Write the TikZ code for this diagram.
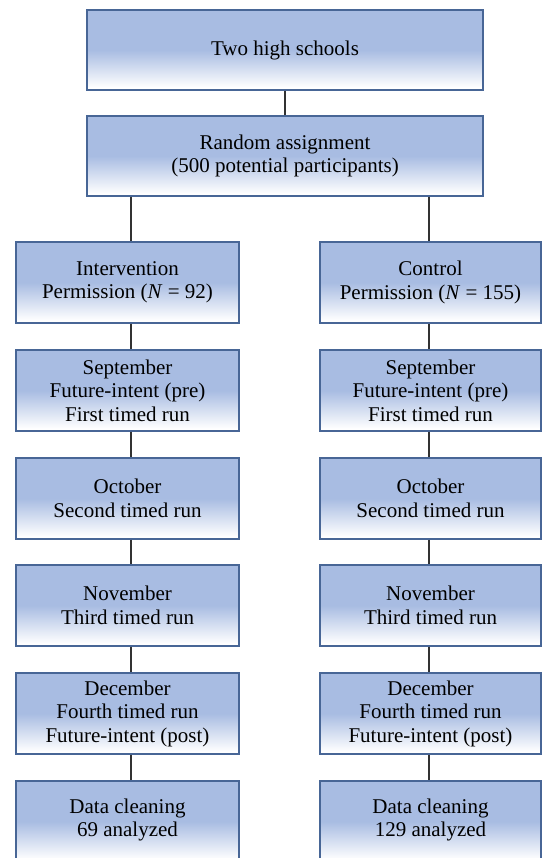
\documentclass[tikz,border=0pt]{standalone}
\usepackage{fontspec}
\setmainfont{Liberation Serif}
\newfontfamily\boxfont{Liberation Serif}
\definecolor{boxblue}{RGB}{168,188,226}
\definecolor{boxedge}{RGB}{72,102,150}
\definecolor{linkgray}{RGB}{50,50,50}
\pgfdeclareverticalshading{boxshade}{100bp}{color(0bp)=(white); color(26.5bp)=(white); color(50bp)=(boxblue); color(100bp)=(boxblue)}
\tikzset{
  flowbox/.style={draw=boxedge, line width=1.2pt, shading=boxshade, align=center,
    font=\boxfont\fontsize{21}{23.5}\selectfont, inner sep=0pt, anchor=center},
  topbox/.style={flowbox, minimum width=396pt, minimum height=80pt},
  leftbox/.style={flowbox, minimum width=223pt, minimum height=81pt},
  rightbox/.style={flowbox, minimum width=221pt, minimum height=81pt},
  endbox/.style={text depth=8pt}
}
\tikzset{link/.style={draw=linkgray, line width=1.3pt}}
\begin{document}
\begin{tikzpicture}[x=1pt,y=-1pt]
\clip (0,0) rectangle (542,858);
\fill[white] (0,0) rectangle (542,858);
\node[topbox] (top) at (285,50) {Two high schools};
\node[topbox] (rand) at (285,156) {Random assignment\\(500 potential participants)};
% left column
\node[leftbox] (li) at (127.5,282.5) {Intervention\\Permission (\textit{N} = 92)};
\node[leftbox] (ls) at (127.5,390.5) {September\\Future-intent (pre)\\First timed run};
\node[leftbox] (lo) at (127.5,498.5) {October\\Second timed run};
\node[leftbox] (ln) at (127.5,605.5) {November\\Third timed run};
\node[leftbox] (ld) at (127.5,713.5) {December\\Fourth timed run\\Future-intent (post)};
\node[leftbox, endbox] (lc) at (127.5,821.5) {Data cleaning\\69 analyzed};
% right column
\node[rightbox] (ri) at (430.5,282.5) {Control\\Permission (\textit{N} = 155)};
\node[rightbox] (rs) at (430.5,390.5) {September\\Future-intent (pre)\\First timed run};
\node[rightbox] (ro) at (430.5,498.5) {October\\Second timed run};
\node[rightbox] (rn) at (430.5,605.5) {November\\Third timed run};
\node[rightbox] (rd) at (430.5,713.5) {December\\Fourth timed run\\Future-intent (post)};
\node[rightbox, endbox] (rc) at (430.5,821.5) {Data cleaning\\129 analyzed};
% connectors
\draw[link] (top.south) -- (rand.north);
\draw[link] ([xshift=3.5pt]li.north |- rand.south) -- ([xshift=3.5pt]li.north);
\draw[link] ([xshift=-1.5pt]ri.north |- rand.south) -- ([xshift=-1.5pt]ri.north);
\foreach \a/\b in {li/ls,ls/lo,lo/ln,ln/ld,ld/lc}{
  \draw[link] ([xshift=3.5pt]\a.south) -- ([xshift=3.5pt]\b.north);
}
\foreach \a/\b in {ri/rs,rs/ro,ro/rn,rn/rd,rd/rc}{
  \draw[link] ([xshift=-1.5pt]\a.south) -- ([xshift=-1.5pt]\b.north);
}
\end{tikzpicture}
\end{document}
